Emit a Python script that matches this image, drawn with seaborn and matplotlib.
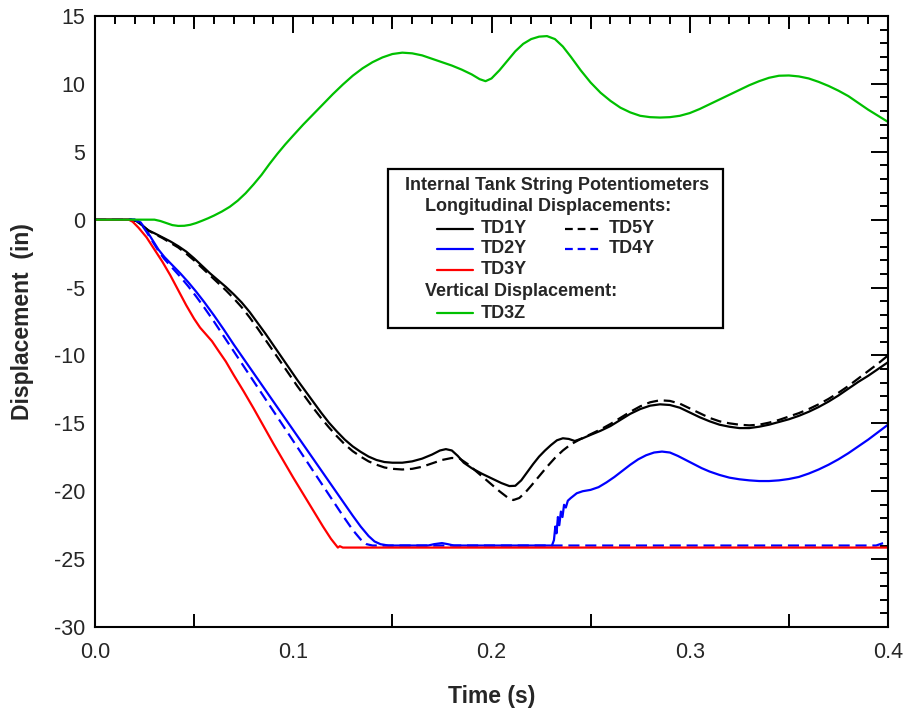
import numpy as np
import pandas as pd
import matplotlib
matplotlib.use("Agg")
import matplotlib.pyplot as plt
from matplotlib.lines import Line2D
from matplotlib.patches import Rectangle
from matplotlib.ticker import MultipleLocator, FixedLocator, FormatStrFormatter
import seaborn as sns

# ---- data: displacement (in) vs time (s) ----
td1y_t = [0, 0.018, 0.021, 0.024, 0.027, 0.030, 0.034, 0.038, 0.042, 0.046, 0.050, 0.054,
          0.058, 0.062, 0.066, 0.070, 0.074, 0.078, 0.082, 0.086, 0.090, 0.094, 0.098, 0.102,
          0.106, 0.110, 0.114, 0.118, 0.122, 0.126, 0.130, 0.134, 0.138, 0.142, 0.146, 0.150,
          0.155, 0.160, 0.165, 0.170, 0.174, 0.177, 0.180, 0.183, 0.186, 0.190, 0.195, 0.200,
          0.205, 0.209, 0.212, 0.215, 0.218, 0.221, 0.224, 0.227, 0.230, 0.233, 0.236, 0.239,
          0.242, 0.246, 0.250, 0.255, 0.260, 0.265, 0.270, 0.275, 0.280, 0.285, 0.290, 0.295,
          0.300, 0.305, 0.310, 0.315, 0.320, 0.325, 0.330, 0.335, 0.340, 0.345, 0.350, 0.355,
          0.360, 0.365, 0.370, 0.375, 0.380, 0.385, 0.390, 0.395, 0.400]
td1y_v = [0, 0, -0.1, -0.45, -0.8, -1.0, -1.3, -1.6, -1.95, -2.35, -2.85, -3.4,
          -3.95, -4.45, -4.95, -5.5, -6.1, -6.8, -7.6, -8.4, -9.25, -10.1, -10.95, -11.8,
          -12.6, -13.4, -14.2, -14.95, -15.6, -16.2, -16.7, -17.1, -17.45, -17.7, -17.85, -17.9,
          -17.9, -17.8, -17.6, -17.3, -17.0, -16.9, -17.0, -17.4, -17.9, -18.3, -18.7, -19.05,
          -19.4, -19.62, -19.6, -19.2, -18.6, -18.0, -17.45, -17.0, -16.6, -16.25, -16.1, -16.15,
          -16.3, -16.1, -15.85, -15.55, -15.2, -14.75, -14.3, -13.95, -13.7, -13.6, -13.65, -13.85,
          -14.2, -14.55, -14.85, -15.1, -15.25, -15.35, -15.35, -15.25, -15.1, -14.9, -14.7, -14.45,
          -14.15, -13.8, -13.4, -12.95, -12.45, -11.95, -11.5, -11.0, -10.5]

td5y_t = [0, 0.018, 0.021, 0.024, 0.027, 0.030, 0.034, 0.038, 0.042, 0.046, 0.050, 0.054,
          0.058, 0.062, 0.066, 0.070, 0.074, 0.078, 0.082, 0.086, 0.090, 0.094, 0.098, 0.102,
          0.106, 0.110, 0.114, 0.118, 0.122, 0.126, 0.130, 0.134, 0.138, 0.142, 0.146, 0.150,
          0.155, 0.160, 0.165, 0.170, 0.175, 0.180, 0.184, 0.188, 0.192, 0.196, 0.200, 0.204,
          0.208, 0.211, 0.214, 0.217, 0.220, 0.224, 0.228, 0.232, 0.236, 0.240, 0.245, 0.250,
          0.255, 0.260, 0.265, 0.270, 0.275, 0.280, 0.285, 0.290, 0.295, 0.300, 0.305, 0.310,
          0.315, 0.320, 0.325, 0.330, 0.335, 0.340, 0.345, 0.350, 0.355, 0.360, 0.365, 0.370,
          0.375, 0.380, 0.385, 0.390, 0.395, 0.400]
td5y_v = [0, 0, -0.1, -0.45, -0.8, -1.05, -1.35, -1.7, -2.05, -2.5, -3.0, -3.55,
          -4.1, -4.65, -5.2, -5.8, -6.45, -7.2, -8.0, -8.85, -9.7, -10.55, -11.4, -12.25,
          -13.05, -13.85, -14.6, -15.3, -15.95, -16.55, -17.05, -17.45, -17.8, -18.05, -18.25, -18.35,
          -18.4, -18.35, -18.2, -17.95, -17.7, -17.55, -17.6, -18.0, -18.5, -19.0, -19.5, -20.0,
          -20.45, -20.65, -20.5, -20.1, -19.6, -18.9, -18.2, -17.55, -17.0, -16.55, -16.15, -15.8,
          -15.45, -15.05, -14.6, -14.15, -13.75, -13.45, -13.3, -13.35, -13.55, -13.9, -14.25, -14.6,
          -14.85, -15.0, -15.1, -15.15, -15.1, -14.95, -14.75, -14.5, -14.25, -13.95, -13.6, -13.2,
          -12.75, -12.25, -11.7, -11.15, -10.6, -10.0]

td2y_t = [0, 0.020, 0.023, 0.026, 0.029, 0.032, 0.035, 0.039, 0.043, 0.047, 0.051, 0.055,
          0.060, 0.065, 0.070, 0.075, 0.080, 0.085, 0.090, 0.095, 0.100, 0.105, 0.110, 0.115,
          0.120, 0.125, 0.130, 0.134, 0.138, 0.141, 0.144, 0.148, 0.168, 0.171, 0.175, 0.178,
          0.181, 0.2305, 0.2315, 0.2322, 0.2328, 0.2335, 0.2342, 0.2350, 0.2358, 0.2366, 0.2375,
          0.2385, 0.240, 0.243, 0.246, 0.250, 0.254, 0.258, 0.262, 0.266, 0.270, 0.274, 0.278,
          0.282, 0.286, 0.290, 0.294, 0.298, 0.302, 0.306, 0.310, 0.315, 0.320, 0.325, 0.330,
          0.335, 0.340, 0.345, 0.350, 0.355, 0.360, 0.365, 0.370, 0.375, 0.380, 0.385, 0.390,
          0.395, 0.400]
td2y_v = [0, 0, -0.2, -0.8, -1.5, -2.2, -2.75, -3.35, -3.95, -4.6, -5.3, -6.05,
          -7.05, -8.1, -9.2, -10.25, -11.3, -12.35, -13.4, -14.45, -15.5, -16.55, -17.6, -18.65,
          -19.7, -20.75, -21.8, -22.6, -23.3, -23.7, -23.9, -24.0, -24.0, -23.9, -23.82, -23.9,
          -24.0, -24.0, -23.6, -22.6, -23.1, -21.9, -22.5, -21.5, -21.9, -21.0, -21.2,
          -20.7, -20.5, -20.15, -20.0, -19.9, -19.7, -19.35, -18.95, -18.5, -18.05, -17.65, -17.35,
          -17.15, -17.08, -17.15, -17.4, -17.7, -18.0, -18.3, -18.55, -18.8, -19.0, -19.12, -19.2,
          -19.25, -19.25, -19.2, -19.1, -18.95, -18.7, -18.4, -18.05, -17.65, -17.2, -16.7, -16.2,
          -15.65, -15.1]

td4y_t = [0, 0.020, 0.023, 0.026, 0.029, 0.032, 0.035, 0.039, 0.043, 0.047, 0.051, 0.055,
          0.060, 0.065, 0.070, 0.075, 0.080, 0.085, 0.090, 0.095, 0.100, 0.105, 0.110, 0.115,
          0.120, 0.125, 0.130, 0.134, 0.137, 0.140, 0.394, 0.397, 0.400]
td4y_v = [0, 0, -0.25, -0.9, -1.6, -2.3, -2.9, -3.55, -4.2, -4.9, -5.65, -6.45,
          -7.5, -8.6, -9.7, -10.8, -11.9, -13.0, -14.1, -15.2, -16.3, -17.4, -18.5, -19.6,
          -20.7, -21.8, -22.85, -23.55, -23.9, -24.0, -24.0, -23.85, -23.75]

td3y_t = [0, 0.017, 0.019, 0.022, 0.026, 0.030, 0.034, 0.038, 0.042, 0.046, 0.050, 0.053,
          0.056, 0.059, 0.062, 0.066, 0.070, 0.075, 0.080, 0.085, 0.090, 0.095, 0.100, 0.105,
          0.110, 0.115, 0.119, 0.1225, 0.1235, 0.125, 0.400]
td3y_v = [0, 0, -0.15, -0.6, -1.3, -2.2, -3.1, -4.1, -5.2, -6.3, -7.3, -7.95,
          -8.45, -8.95, -9.6, -10.45, -11.45, -12.65, -13.9, -15.2, -16.5, -17.75, -19.0, -20.2,
          -21.4, -22.6, -23.5, -24.15, -24.05, -24.15, -24.15]

td3z_t = [0, 0.030, 0.033, 0.036, 0.039, 0.042, 0.045, 0.048, 0.051, 0.054, 0.057, 0.060,
          0.064, 0.068, 0.072, 0.076, 0.080, 0.084, 0.088, 0.092, 0.096, 0.100, 0.105, 0.110,
          0.115, 0.120, 0.125, 0.130, 0.135, 0.140, 0.145, 0.150, 0.155, 0.160, 0.165, 0.170,
          0.175, 0.180, 0.185, 0.190, 0.194, 0.197, 0.200, 0.204, 0.208, 0.212, 0.216, 0.220,
          0.224, 0.228, 0.232, 0.236, 0.240, 0.245, 0.250, 0.255, 0.260, 0.265, 0.270, 0.275,
          0.280, 0.285, 0.290, 0.295, 0.300, 0.305, 0.310, 0.315, 0.320, 0.325, 0.330, 0.335,
          0.340, 0.345, 0.350, 0.355, 0.360, 0.365, 0.370, 0.375, 0.380, 0.385, 0.390, 0.395,
          0.400]
td3z_v = [0, 0, -0.1, -0.25, -0.4, -0.46, -0.45, -0.38, -0.25, -0.08, 0.1, 0.3,
          0.6, 0.95, 1.4, 1.95, 2.6, 3.3, 4.1, 4.85, 5.55, 6.2, 7.0, 7.75,
          8.5, 9.25, 9.95, 10.6, 11.15, 11.6, 11.95, 12.2, 12.3, 12.25, 12.1, 11.85,
          11.6, 11.35, 11.05, 10.7, 10.35, 10.2, 10.4, 11.0, 11.7, 12.4, 12.95, 13.3,
          13.48, 13.52, 13.3, 12.75, 12.0, 11.0, 10.1, 9.35, 8.75, 8.25, 7.9, 7.65,
          7.55, 7.52, 7.55, 7.65, 7.85, 8.15, 8.5, 8.85, 9.2, 9.55, 9.9, 10.2,
          10.45, 10.6, 10.62, 10.55, 10.4, 10.15, 9.85, 9.5, 9.1, 8.6, 8.1, 7.65,
          7.2]

series = [
    ("TD1Y", td1y_t, td1y_v, "#000000", "-"),
    ("TD2Y", td2y_t, td2y_v, "#0000ff", "-"),
    ("TD5Y", td5y_t, td5y_v, "#000000", "--"),
    ("TD4Y", td4y_t, td4y_v, "#0000ff", "--"),
    ("TD3Y", td3y_t, td3y_v, "#ff0000", "-"),
    ("TD3Z", td3z_t, td3z_v, "#00c000", "-"),
]

sns.set_theme(style="white")
plt.rcParams["font.family"] = ["Liberation Sans", "DejaVu Sans"]
plt.rcParams["axes.linewidth"] = 1.5

fig = plt.figure(figsize=(9.09, 7.15), dpi=100)
ax = fig.add_axes([95 / 909, 1 - 627 / 715, 793 / 909, 611 / 715])

dash = (0, (5, 2.6))
for name, t, v, color, ls in series:
    df = pd.DataFrame({"Time (s)": t, "Displacement (in)": v})
    sns.lineplot(data=df, x="Time (s)", y="Displacement (in)", ax=ax, color=color,
                 linewidth=1.6, estimator=None, sort=False)
    if ls == "--":
        ax.lines[-1].set_linestyle(dash)

ax.set_xlim(0, 0.4)
ax.set_ylim(-30, 15)
ax.xaxis.set_major_locator(MultipleLocator(0.1))
ax.xaxis.set_minor_locator(MultipleLocator(0.01))
ax.yaxis.set_major_locator(MultipleLocator(5))
ax.yaxis.set_minor_locator(MultipleLocator(1))
ax.xaxis.set_major_formatter(FormatStrFormatter("%.1f"))
ax.yaxis.set_major_formatter(FormatStrFormatter("%d"))
ax.tick_params(which="both", direction="in", top=True, right=True, color="black",
               width=1.4)
ax.tick_params(which="major", length=12, labelsize=15.5)
ax.tick_params(which="minor", length=5.8)
ax.tick_params(axis="x", which="major", pad=10.5)
ax.tick_params(axis="y", which="major", pad=7)
for sp in ax.spines.values():
    sp.set_color("black")
    sp.set_linewidth(1.5)

# intermediate ticks at the half-decades of time
mid = [0.05, 0.15, 0.25, 0.35]
for loc in ("bottom", "top"):
    sec = ax.secondary_xaxis(loc)
    sec.xaxis.set_major_locator(FixedLocator(mid))
    sec.tick_params(direction="in", length=9.4, width=1.4, color="black",
                    labelbottom=False, labeltop=False)
    for sp in sec.spines.values():
        sp.set_visible(False)

ax.set_xlabel("Time (s)", fontsize=16.5, fontweight="bold", labelpad=16)
ax.set_ylabel("Displacement  (in)", fontsize=16.5, fontweight="bold", labelpad=14)

# legend panel
lx0, lx1, ly0, ly1 = 0.3695, 0.792, 0.4894, 0.7496
ax.add_patch(Rectangle((lx0, ly0), lx1 - lx0, ly1 - ly0, transform=ax.transAxes,
                       facecolor="white", edgecolor="black", linewidth=1.6, zorder=5))
fs = 13
tk = dict(transform=ax.transAxes, fontsize=fs, fontweight="bold", va="center",
          ha="left", zorder=6)
ax.text(0.3909, 0.7218, "Internal Tank String Potentiometers", **tk)
ax.text(0.4161, 0.6874, "Longitudinal Displacements:", **tk)
ax.text(0.4161, 0.5499, "Vertical Displacement:", **tk)
entries = [
    ("TD1Y", "#000000", "-", 0.4313, 0.6514),
    ("TD2Y", "#0000ff", "-", 0.4313, 0.6187),
    ("TD3Y", "#ff0000", "-", 0.4313, 0.5843),
    ("TD5Y", "#000000", "--", 0.5927, 0.6514),
    ("TD4Y", "#0000ff", "--", 0.5927, 0.6187),
    ("TD3Z", "#00c000", "-", 0.4313, 0.5139),
]
for name, color, ls, x0, y in entries:
    ax.add_line(Line2D([x0, x0 + 0.046], [y, y], transform=ax.transAxes, color=color,
                       linewidth=1.6, linestyle=(0, (3.5, 2.2)) if ls == "--" else "-",
                       zorder=6))
    ax.text(x0 + 0.055, y, name, **tk)

fig.savefig("out.png", dpi=100)
